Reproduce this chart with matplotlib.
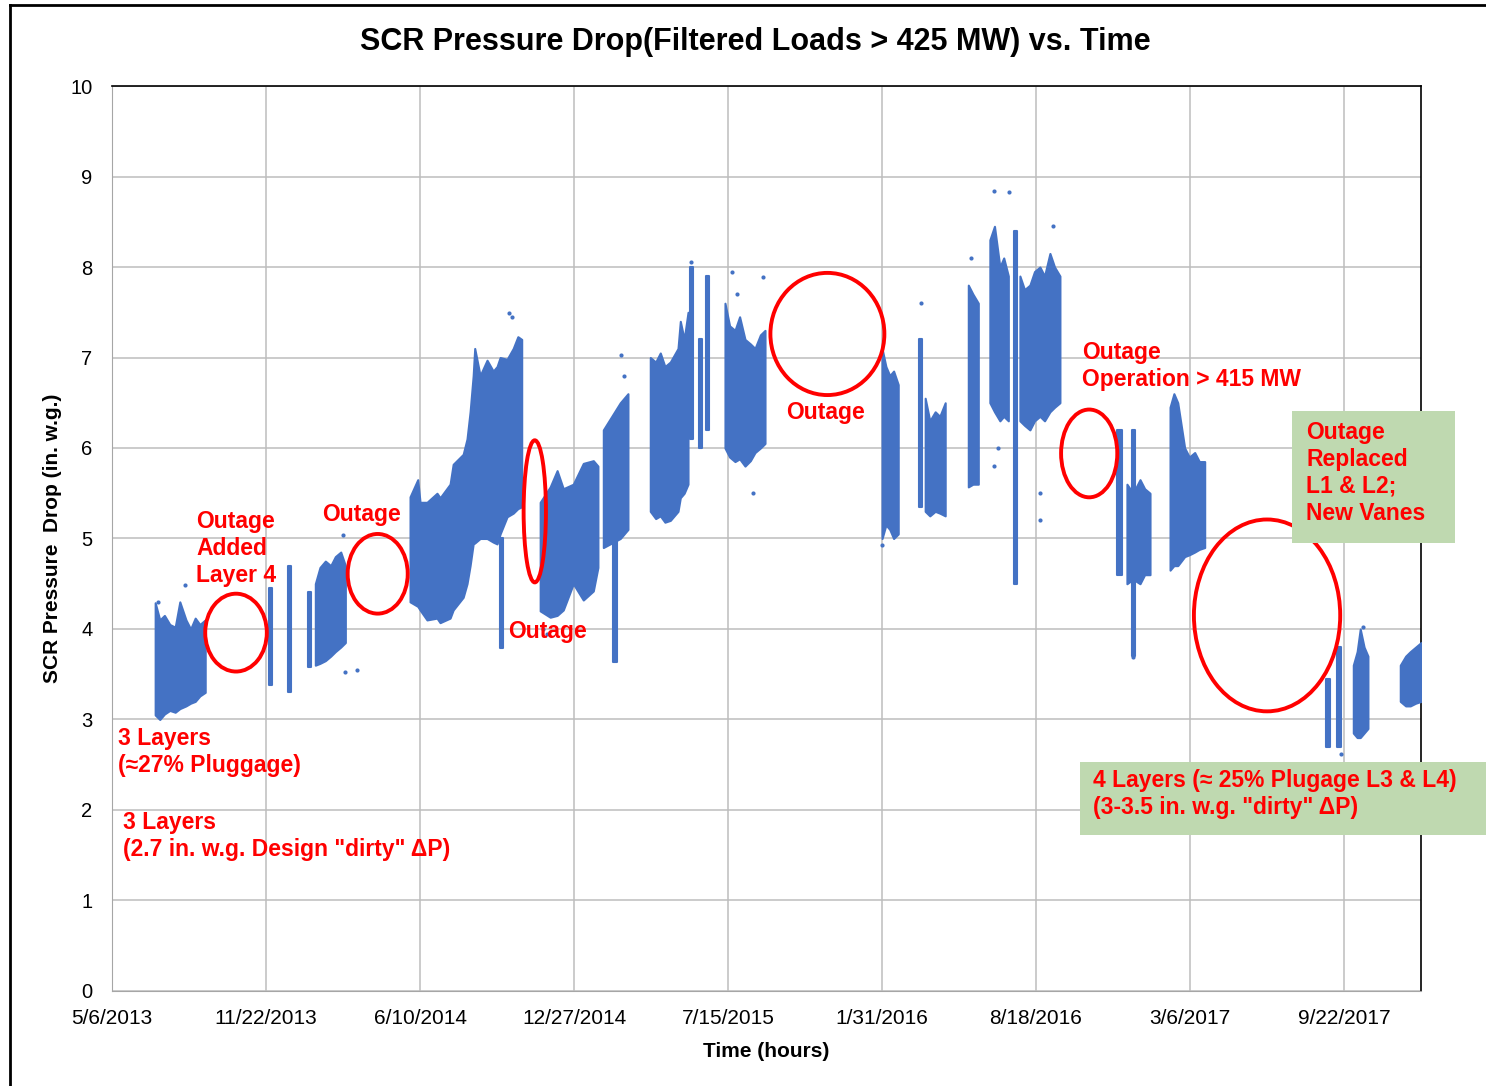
import matplotlib.pyplot as plt
from matplotlib.patches import Ellipse, Rectangle
from matplotlib.lines import Line2D

plt.rcParams['font.family'] = ['Liberation Sans', 'DejaVu Sans']

# x axis is days counted from 5/6/2013, ticks every 200 days
tick_days = [0, 200, 400, 600, 800, 1000, 1200, 1400, 1600]
tick_labels = ['5/6/2013', '11/22/2013', '6/10/2014', '12/27/2014', '7/15/2015',
               '1/31/2016', '8/18/2016', '3/6/2017', '9/22/2017']

# filtered SCR dP readings, one block per run between outages:
# day, lowest reading, highest reading
band_days = [
    [56, 62, 68, 75, 82, 88, 96, 102, 108, 114, 121],
    [204, 208],
    [229, 233],
    [254, 258],
    [264, 270, 277, 284, 290, 297, 303],
    [387, 397, 400, 409, 422, 426, 439, 443, 456, 461, 465, 469, 471, 478, 487,
     495, 500, 504, 513, 521, 527, 532],
    [504, 508],
    [556, 569, 578, 586, 599, 612, 625, 631],
    [638, 649, 660, 670],
    [651, 656],
    [699, 706, 712, 718, 725, 735, 738, 743, 748],
    [751, 755],
    [762, 766],
    [771, 775],
    [796, 802, 809, 815, 822, 829, 835, 842, 848],
    [1000, 1005, 1010, 1015, 1021],
    [1048, 1052],
    [1056, 1062, 1069, 1075, 1082],
    [1112, 1118, 1125],
    [1140, 1146, 1153, 1158, 1164],
    [1171, 1175],
    [1179, 1185, 1192, 1198, 1205, 1211, 1218, 1224, 1231],
    [1305, 1312],
    [1318, 1326, 1335, 1341, 1348],
    [1324, 1328],
    [1374, 1379, 1384, 1393, 1399, 1406, 1412, 1419],
    [1577, 1582],
    [1591, 1596],
    [1612, 1617, 1621, 1626, 1631],
    [1673, 1680, 1686, 1693, 1700],
]
band_lo = [
    [3.05, 3.0, 3.06, 3.1, 3.08, 3.12, 3.15, 3.18, 3.2, 3.26, 3.3],
    [3.38, 3.38],
    [3.3, 3.3],
    [3.58, 3.58],
    [3.6, 3.62, 3.65, 3.7, 3.75, 3.8, 3.85],
    [4.3, 4.25, 4.21, 4.1, 4.12, 4.07, 4.12, 4.21, 4.35, 4.5, 4.7, 4.94, 4.95, 5.0, 5.0,
     4.96, 4.94, 5.05, 5.24, 5.28, 5.33, 5.35],
    [3.79, 3.79],
    [4.2, 4.13, 4.15, 4.21, 4.5, 4.32, 4.42, 4.68],
    [4.9, 4.95, 5.0, 5.1],
    [3.64, 3.64],
    [5.3, 5.22, 5.25, 5.18, 5.2, 5.3, 5.45, 5.5, 5.6],
    [6.1, 6.1],
    [6.0, 6.0],
    [6.2, 6.2],
    [6.0, 5.9, 5.85, 5.88, 5.8, 5.86, 5.95, 6.0, 6.05],
    [5.0, 5.15, 5.1, 5.0, 5.05],
    [5.35, 5.35],
    [5.3, 5.25, 5.3, 5.28, 5.25],
    [5.57, 5.6, 5.6],
    [6.5, 6.4, 6.3, 6.35, 6.3],
    [4.5, 4.5],
    [6.3, 6.25, 6.2, 6.3, 6.35, 6.3, 6.4, 6.45, 6.5],
    [4.6, 4.6],
    [4.5, 4.55, 4.5, 4.6, 4.6],
    [3.7, 3.7],
    [4.65, 4.7, 4.7, 4.8, 4.82, 4.85, 4.88, 4.9],
    [2.7, 2.7],
    [2.7, 2.7],
    [2.85, 2.8, 2.8, 2.85, 2.9],
    [3.2, 3.15, 3.15, 3.18, 3.2],
]
band_hi = [
    [4.29, 4.1, 4.15, 4.05, 4.02, 4.3, 4.1, 4.0, 4.12, 4.05, 4.1],
    [4.45, 4.45],
    [4.7, 4.7],
    [4.41, 4.41],
    [4.5, 4.68, 4.75, 4.7, 4.8, 4.85, 4.7],
    [5.46, 5.65, 5.4, 5.4, 5.5, 5.45, 5.6, 5.82, 5.93, 6.1, 6.4, 6.8, 7.1, 6.8, 6.97,
     6.85, 6.9, 7.0, 6.98, 7.1, 7.23, 7.2],
    [5.0, 5.0],
    [5.4, 5.57, 5.75, 5.55, 5.6, 5.83, 5.86, 5.8],
    [6.2, 6.35, 6.5, 6.6],
    [5.0, 5.0],
    [7.0, 6.95, 7.05, 6.9, 6.95, 7.1, 7.4, 7.2, 7.5],
    [8.0, 8.0],
    [7.2, 7.2],
    [7.9, 7.9],
    [7.6, 7.35, 7.3, 7.45, 7.2, 7.15, 7.1, 7.25, 7.3],
    [7.1, 6.9, 6.8, 6.85, 6.7],
    [7.2, 7.2],
    [6.55, 6.3, 6.4, 6.35, 6.5],
    [7.8, 7.7, 7.6],
    [8.3, 8.45, 8.0, 8.1, 7.9],
    [8.4, 8.4],
    [7.9, 7.75, 7.8, 7.95, 8.0, 7.9, 8.15, 8.0, 7.9],
    [6.2, 6.2],
    [5.6, 5.5, 5.65, 5.55, 5.5],
    [6.2, 6.2],
    [6.45, 6.6, 6.5, 6.0, 5.9, 5.95, 5.85, 5.85],
    [3.45, 3.45],
    [3.8, 3.8],
    [3.6, 3.75, 4.0, 3.8, 3.7],
    [3.6, 3.7, 3.75, 3.8, 3.85],
]

# stray readings outside the main bands
dot_days = [60, 95, 300, 303, 318, 407, 515, 520, 560, 565, 661, 665, 752, 805, 812, 832,
            845, 1000, 1050, 1116, 1145, 1146, 1150, 1165, 1205, 1205, 1222, 1326,
            1625, 1596]
dot_vals = [4.3, 4.49, 5.04, 3.52, 3.55, 4.95, 7.49, 7.45, 4.0, 3.95, 7.03, 6.8, 8.05,
            7.95, 7.7, 5.5, 7.89, 4.93, 7.6, 8.1, 5.8, 8.84, 6.0, 8.83, 5.2, 5.5, 8.45,
            3.69, 4.02, 2.62]

blue = '#4472c4'
red = '#ff0000'
green = '#bfd9b0'

fig = plt.figure(figsize=(14.86, 10.86), dpi=100)
ax = fig.add_axes([0.0754, 0.0875, 0.8809, 0.8333])

for d, lo, hi in zip(band_days, band_lo, band_hi):
    ax.fill_between(d, lo, hi, color=blue, lw=1.5, edgecolor=blue, zorder=3)
ax.scatter(dot_days, dot_vals, s=9, color=blue, zorder=3, linewidths=0)

ax.set_xlim(0, 1700)
ax.set_ylim(0, 10)
ax.set_xticks(tick_days)
ax.set_xticklabels(tick_labels)
ax.set_yticks(range(0, 11))
ax.tick_params(axis='x', length=0, pad=13, labelsize=15)
ax.tick_params(axis='y', length=0, pad=14, labelsize=14.5)
ax.grid(True, color='#bdbdbd', lw=1.1)
ax.set_axisbelow(True)
for s in ['left', 'bottom']:
    ax.spines[s].set_color('#a6a6a6')
for s in ['top', 'right']:
    ax.spines[s].set_color('black')
    ax.spines[s].set_linewidth(1.2)

ax.set_xlabel('Time (hours)', fontsize=15, fontweight='bold', labelpad=10)
ax.set_ylabel('SCR Pressure  Drop (in. w.g.)', fontsize=15, fontweight='bold', labelpad=6)
fig.text(0.508, 0.961, 'SCR Pressure Drop(Filtered Loads > 425 MW) vs. Time',
         ha='center', va='center', fontsize=22, fontweight='bold')

# outage circles
for cx, cy, w, h in [(161, 3.96, 80, 0.86), (345, 4.61, 78, 0.88), (549, 5.30, 29, 1.57),
                     (929, 7.26, 148, 1.35), (1269, 5.94, 73, 0.97), (1500, 4.15, 190, 2.12)]:
    ax.add_patch(Ellipse((cx, cy), w, h, fill=False, edgecolor=red, lw=2.8, zorder=4))

note = dict(color=red, fontsize=16.5, fontweight='bold', va='top', ha='left',
            linespacing=1.22, zorder=5)
ax.text(109, 5.31, 'Outage\nAdded\nLayer 4', **note)
ax.text(273, 5.39, 'Outage', **note)
ax.text(514, 4.10, 'Outage', **note)
ax.text(875, 6.52, 'Outage', **note)
ax.text(1260, 7.18, 'Outage\nOperation > 415 MW', **note)
ax.text(8, 2.92, '3 Layers\n(≈27% Pluggage)', **note)
ax.text(14, 1.99, '3 Layers\n(2.7 in. w.g. Design "dirty" ΔP)', **note)

# shaded call-outs for the L1/L2 replacement
ax.add_patch(Rectangle((1532, 4.95), 212, 1.46, facecolor=green, edgecolor='none',
                       clip_on=False, zorder=4))
ax.text(1551, 6.30, 'Outage\nReplaced\nL1 & L2;\nNew Vanes', clip_on=False, **note)
ax.add_patch(Rectangle((1257, 1.72), 530, 0.81, facecolor=green, edgecolor='none',
                       clip_on=False, zorder=4))
ax.text(1274, 2.45, '4 Layers (≈ 25% Plugage L3 & L4)\n(3-3.5 in. w.g. "dirty" ΔP)',
        clip_on=False, **note)

# page frame
fig.add_artist(Line2D([0.0067, 0.0067], [0, 0.995], color='black', lw=2))
fig.add_artist(Line2D([0.0067, 1], [0.995, 0.995], color='black', lw=2))

fig.savefig('out.png', dpi=100)
